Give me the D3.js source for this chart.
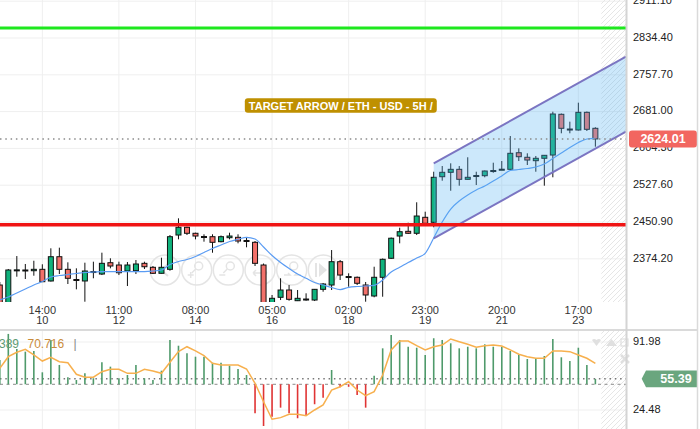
<!DOCTYPE html>
<html><head><meta charset="utf-8">
<script src="https://cdn.jsdelivr.net/npm/d3@7"></script>
<style>
body{margin:0;background:#fff}
svg{display:block}
text{font-family:"Liberation Sans",Arial,sans-serif}
</style></head>
<body><svg id="c" width="700" height="429"></svg>
<script>
// ---------------- data ----------------
const timeLabels = ["14:00","11:00","08:00","05:00","02:00","23:00","20:00","17:00"];
const dayLabels  = ["10","12","14","16","18","19","21","23"];
const labelIndex = [5,14,23,32,41,50,59,68];

const opens = [2319.6,2275.8,2350.5,2349.8,2349.4,2352.3,2328.0,2378.6,2352.3,2331.1,
 2328.0,2347.7,2342.5,2366.1,2361.3,2348.8,2349.4,2364.8,2356.5,2344.0,
 2352.3,2423.8,2439.9,2427.4,2420.7,2420.3,2409.9,2418.2,2419.0,2412.4,
 2408.6,2361.3,2278.0,2294.0,2309.2,2286.9,2289.4,2288.3,2310.6,2319.6,
 2368.2,2337.3,2335.7,2319.6,2296.7,2335.7,2375.3,2421.7,2431.5,2427.4,
 2460.7,2450.3,2545.3,2554.5,2560.7,2539.9,2546.8,2547.4,2557.2,2560.3,
 2560.7,2595.3,2585.8,2578.7,2583.7,2590.5,2675.4,2644.7,2642.7,2679.5,
 2646.2];
const highs = [2325.9,2353.0,2380.0,2363.4,2370.2,2362.8,2396.1,2397.4,2366.9,2354.4,
 2366.1,2368.2,2387.0,2375.3,2368.2,2367.5,2371.7,2368.2,2359.2,2376.5,
 2423.8,2458.6,2441.1,2428.6,2425.3,2425.3,2422.8,2428.6,2425.3,2418.2,
 2411.3,2364.4,2298.8,2333.6,2319.6,2309.2,2302.3,2311.3,2323.8,2392.5,
 2371.7,2344.0,2337.3,2325.9,2357.7,2374.8,2418.6,2439.0,2449.4,2492.0,
 2472.4,2555.7,2567.6,2573.2,2567.6,2585.8,2555.7,2558.2,2574.5,2578.0,
 2630.1,2604.5,2594.1,2588.5,2590.5,2680.8,2677.0,2660.0,2699.6,2681.2,
 2648.3];
const lows = [2273.7,2271.7,2336.9,2332.1,2339.0,2325.9,2326.9,2342.5,2321.7,2310.6,
 2284.8,2333.6,2340.4,2354.4,2340.4,2317.5,2342.5,2353.0,2342.5,2343.6,
 2349.4,2414.8,2423.8,2414.8,2409.9,2386.9,2408.6,2414.8,2406.5,2398.2,
 2359.2,2275.8,2273.7,2288.3,2286.9,2286.2,2286.9,2286.2,2305.6,2309.2,
 2330.0,2316.0,2319.6,2284.8,2294.0,2295.2,2373.8,2406.5,2425.9,2423.8,
 2446.1,2439.9,2537.0,2516.1,2526.6,2539.5,2528.0,2544.1,2553.6,2559.7,
 2559.7,2578.0,2569.7,2555.7,2526.6,2544.1,2635.8,2635.8,2641.6,2640.6,
 2607.9];
const closes = [2277.9,2350.9,2351.2,2350.9,2352.3,2326.5,2378.6,2352.3,2333.6,2330.0,
 2348.8,2346.7,2364.8,2359.2,2345.2,2361.3,2363.4,2357.7,2344.0,2356.5,
 2420.3,2439.9,2427.4,2421.7,2419.6,2408.6,2420.3,2421.7,2411.3,2411.3,
 2364.8,2279.0,2291.9,2309.2,2289.8,2291.9,2290.4,2310.6,2321.7,2368.2,
 2340.4,2336.3,2323.2,2298.8,2335.7,2373.2,2417.1,2430.7,2427.4,2463.4,
 2448.2,2544.1,2554.5,2560.7,2539.9,2544.1,2547.8,2557.2,2558.2,2560.9,
 2594.1,2587.0,2580.1,2583.7,2589.9,2676.0,2646.2,2643.7,2679.5,2644.1,
 2624.01];
const maValues = [2288.3,2294.6,2302.9,2311.3,2319.6,2326.9,2336.3,2339.4,2341.5,2343.6,
 2345.7,2346.7,2347.3,2347.7,2347.7,2347.7,2347.7,2347.7,2348.8,2350.9,
 2362.3,2368.6,2372.7,2379.0,2387.3,2395.7,2403.0,2410.3,2414.9,2419.0,
 2415.5,2398.8,2381.1,2366.5,2354.0,2342.5,2333.6,2324.8,2319.6,2314.4,
 2310.2,2314.8,2316.5,2317.5,2319.0,2330.0,2346.7,2356.5,2366.5,2375.9,
 2385.7,2417.6,2450.9,2478.0,2494.7,2507.2,2517.6,2525.9,2536.4,2546.8,
 2558.2,2560.3,2562.4,2565.5,2571.8,2583.3,2594.7,2606.2,2616.6,2623.9,
 2625.4];
const oscValues = [74,100,85.0,82.4,83.1,61.9,94.0,69.2,57.0,54.3,
 60.9,56.0,71.9,67.5,56.0,59.2,69.2,56.0,54.3,63.5,
 94.0,88.3,80.8,77.4,77.4,71.4,71.4,68.5,65.2,59.2,
 21.2,8.6,17.8,26.8,21.2,16.3,19.5,30.2,36.7,64.2,
 47.0,47.5,39.4,26.8,58.6,85.7,99.0,94.0,87.3,86.3,
 79.1,95.7,94.0,90.7,85.7,87.3,85.7,89.7,87.3,87.3,
 83.1,79.1,75.1,75.8,78.1,95.0,76.8,73.1,86.3,69.2,
 55.39];
const oscSignal = [65.9,77.4,81.8,84.7,79.1,73.1,76.8,72.4,71.4,59.9,
 57.0,57.0,62.5,64.9,64.9,60.9,60.9,64.9,63.2,60.9,
 71.8,82.4,87.3,83.1,78.4,70.9,69.2,69.2,69.2,65.2,
 51.0,32.7,15.3,16.9,20.2,20.2,18.8,24.5,29.5,44.3,
 47.6,52.6,44.3,38.7,42.7,59.2,84.1,93.0,93.0,88.3,
 84.1,87.3,89.0,95.0,92.3,89.7,86.7,88.3,89.0,88.0,
 84.1,79.8,77.4,75.8,75.8,83.1,83.1,82.4,79.1,75.8,
 70.7];
const priceTicks = [2374.20,2450.90,2527.60,2604.30,2681.00,2757.70,2834.40,2911.10];
const oscTicks = [24.48,91.98];
const lastPrice = 2624.01;
const lastOsc = 55.39;
const oscBase = 50;
const legendValues = ["55.389","70.716"];
const supportLevel = 2445;
const resistanceLevel = 2855;
const channelUpper = [[51,2573.2],[73.6,2795.4]];
const channelLower = [[51,2416.9],[73.6,2639.1]];
const titleText = "TARGET ARROW / ETH - USD - 5H /";

// ---------------- drawing ----------------
const svg = d3.select('#c');
const plotR = 626, mainB = 302, oscT = 331, oscB = 429;
const x = d3.scaleLinear().domain([0,73.6]).range([-0.2,626]);
const y = d3.scaleLinear().domain([2284.2,2913.6]).range([mainB,0]);
const yo = d3.scaleLinear().domain([24.48,91.98]).range([410,342]);

const defs = svg.append('defs');
defs.append('clipPath').attr('id','cm').append('rect').attr('x',0).attr('y',0).attr('width',plotR).attr('height',mainB);
defs.append('clipPath').attr('id','co').append('rect').attr('x',0).attr('y',oscT).attr('width',plotR).attr('height',oscB-oscT);
const pat = defs.append('pattern').attr('id','hatch').attr('patternUnits','userSpaceOnUse').attr('width',5).attr('height',5);
pat.append('path').attr('d','M-1,6 L6,-1 M-1,1 L1,-1 M4,6 L6,4').attr('stroke','#e6e6e6').attr('stroke-width',1);

// grid
const grid = svg.append('g');
grid.selectAll('line.h').data(priceTicks).join('line')
  .attr('x1',0).attr('x2',plotR).attr('y1',d=>y(d)).attr('y2',d=>y(d))
  .attr('stroke','#efefef').attr('stroke-width',1);
grid.selectAll('line.v').data(labelIndex).join('line')
  .attr('x1',d=>x(d)).attr('x2',d=>x(d)).attr('y1',0).attr('y2',mainB)
  .attr('stroke','#efefef').attr('stroke-width',1);
grid.selectAll('line.vo').data(labelIndex).join('line')
  .attr('x1',d=>x(d)).attr('x2',d=>x(d)).attr('y1',oscT).attr('y2',oscB)
  .attr('stroke','#efefef').attr('stroke-width',1);
grid.selectAll('line.ho').data(oscTicks).join('line')
  .attr('x1',0).attr('x2',plotR).attr('y1',d=>yo(d)).attr('y2',d=>yo(d))
  .attr('stroke','#efefef').attr('stroke-width',1);

// hatch future area
const hx = x(70.7);
svg.append('rect').attr('x',hx).attr('y',0).attr('width',plotR-hx).attr('height',mainB).attr('fill','url(#hatch)');
svg.append('rect').attr('x',hx).attr('y',oscT).attr('width',plotR-hx).attr('height',oscB-oscT).attr('fill','url(#hatch)');

// zoom buttons (faint)
const btn = svg.append('g').attr('stroke','#e4e4e4').attr('fill','none').attr('stroke-width',1.5);
const bx = [165,196.7,228.3,260,291.7,323.3];
bx.forEach(cx=>btn.append('circle').attr('cx',cx).attr('cy',270).attr('r',15));
btn.append('path').attr('d','M168,264 L161,270 L168,276').attr('stroke-width',2);
[196.7,228.3].forEach((cx,k)=>{
  btn.append('circle').attr('cx',cx+2).attr('cy',266).attr('r',4);
  btn.append('path').attr('d',`M${cx-1},269 L${cx-5},273`);
  btn.append('path').attr('d',k===0?`M${cx-9},275 h6 M${cx-6},272 v6`:`M${cx-9},275 h6`);
});
btn.append('path').attr('d','M253,273 h14 M253,273 l3,-3 M253,273 l3,3 M267,273 l-3,-3 M267,273 l-3,3');
btn.append('circle').attr('cx',293.7).attr('cy',266).attr('r',4);
btn.append('path').attr('d','M284,275 h6 l-2,-2 M301,275 h-6 l2,-2');
svg.append('path').attr('d','M319,263 L319,277 L327,270 Z').attr('fill','#e4e4e4');
svg.append('rect').attr('x',315).attr('y',263).attr('width',2).attr('height',14).attr('fill','#e4e4e4');

// candles
const cg = svg.append('g').attr('clip-path','url(#cm)');
const idx = d3.range(opens.length);
cg.selectAll('line.w').data(idx).join('line')
  .attr('x1',i=>x(i)).attr('x2',i=>x(i)).attr('y1',i=>y(highs[i])).attr('y2',i=>y(lows[i]))
  .attr('stroke','#111').attr('stroke-width',1);
cg.selectAll('rect.b').data(idx).join('rect')
  .attr('x',i=>x(i)-2.5).attr('width',5)
  .attr('y',i=>Math.min(y(opens[i]),y(closes[i])))
  .attr('height',i=>Math.max(1,Math.abs(y(opens[i])-y(closes[i]))))
  .attr('fill',i=>closes[i]>=opens[i]?'#0fb27c':'#f2706a')
  .attr('stroke','#111').attr('stroke-width',1);

// moving average
cg.append('path').datum(maValues)
  .attr('d',d3.line().x((d,i)=>x(i)).y(d=>y(d)).curve(d3.curveMonotoneX))
  .attr('fill','none').attr('stroke','#5b9cf3').attr('stroke-width',1.2);

// channel
const chPoly = [channelUpper[0],channelUpper[1],channelLower[1],channelLower[0]];
cg.append('path').attr('d','M'+chPoly.map(p=>[x(p[0]),y(p[1])].join(',')).join('L')+'Z')
  .attr('fill','rgba(85,178,242,0.3)');
[channelUpper,channelLower].forEach(ch=>{
  cg.append('line').attr('x1',x(ch[0][0])).attr('y1',y(ch[0][1])).attr('x2',x(ch[1][0])).attr('y2',y(ch[1][1]))
    .attr('stroke','#7b75c2').attr('stroke-width',2);
});

// horizontal levels
svg.append('line').attr('x1',0).attr('x2',plotR).attr('y1',y(resistanceLevel)).attr('y2',y(resistanceLevel))
  .attr('stroke','#1ee81e').attr('stroke-width',3);
svg.append('line').attr('x1',0).attr('x2',plotR).attr('y1',y(supportLevel)).attr('y2',y(supportLevel))
  .attr('stroke','#f01414').attr('stroke-width',3.5);

// last price dotted line
svg.append('line').attr('x1',0).attr('x2',plotR).attr('y1',y(lastPrice)).attr('y2',y(lastPrice))
  .attr('stroke','#8a8a8a').attr('stroke-width',1.5).attr('stroke-dasharray','1.5,3.8');

// title label
const tg = svg.append('g');
const tt = tg.append('text').attr('x',340.8).attr('y',109.5).attr('text-anchor','middle')
  .attr('font-size',11).attr('font-weight','bold').attr('fill','#fff').text(titleText);
const tw = tt.node().getComputedTextLength();
tg.insert('rect','text').attr('x',340.8-tw/2-4).attr('y',98.3).attr('width',tw+8).attr('height',14.4)
  .attr('rx',3).attr('fill','#bf9000');

// x axis labels
const xa = svg.append('g').attr('font-size',11).attr('fill','#333').attr('text-anchor','middle');
xa.selectAll('text.t').data(labelIndex).join('text').attr('x',d=>x(d)).attr('y',313.5).text((d,i)=>timeLabels[i]);
xa.selectAll('text.d').data(labelIndex).join('text').attr('x',d=>x(d)).attr('y',323.8).text((d,i)=>dayLabels[i]);

// right axis
const ra = svg.append('g').attr('font-size',11).attr('fill','#222');
ra.selectAll('text.p').data(priceTicks).join('text').attr('x',633).attr('y',d=>y(d)+2.8).text(d=>d.toFixed(2));
ra.selectAll('text.o').data(oscTicks).join('text').attr('x',633).attr('y',d=>yo(d)+3).text(d=>d.toFixed(2));

// price label
const ly = y(lastPrice);
svg.append('rect').attr('x',629).attr('y',ly-8.5).attr('width',68).attr('height',17).attr('rx',3).attr('fill','#f26660');
svg.append('text').attr('x',663).attr('y',ly+4.3).attr('text-anchor','middle').attr('font-size',12.5)
  .attr('font-weight','bold').attr('fill','#fff').text(lastPrice.toFixed(2));

// oscillator
const og = svg.append('g').attr('clip-path','url(#co)');
og.append('line').attr('x1',0).attr('x2',plotR).attr('y1',yo(oscBase)).attr('y2',yo(oscBase))
  .attr('stroke','#8a8a8a').attr('stroke-width',1).attr('stroke-dasharray','3,3.5');
og.append('line').attr('x1',0).attr('x2',plotR).attr('y1',yo(lastOsc)).attr('y2',yo(lastOsc))
  .attr('stroke','#777').attr('stroke-width',1.5).attr('stroke-dasharray','1.5,3.8');
og.selectAll('line.bar').data(idx).join('line')
  .attr('x1',i=>x(i)).attr('x2',i=>x(i)).attr('y1',yo(oscBase)).attr('y2',i=>yo(oscValues[i]))
  .attr('stroke',i=>oscValues[i]>=oscBase?'#4f9a6b':'#e03434').attr('stroke-width',1.6);
og.append('path').datum(oscSignal)
  .attr('d',d3.line().x((d,i)=>x(i)).y(d=>yo(d)))
  .attr('fill','none').attr('stroke','#f7b04e').attr('stroke-width',1.5);

// legend
svg.append('text').attr('x',19).attr('y',347.5).attr('text-anchor','end').attr('font-size',12).attr('fill','#5d9b73').text(legendValues[0]);
svg.append('text').attr('x',27.5).attr('y',347.5).attr('font-size',12).attr('fill','#c98b3b').text(legendValues[1]);
svg.append('text').attr('x',73.5).attr('y',347.5).attr('font-size',12).attr('fill','#888').text('|');

// osc label
const oy = yo(lastOsc);
svg.append('path').attr('d',`M641.7,${oy} L646,${oy-8.3} H697 V${oy+8.3} H646 Z`).attr('fill','#6aa67e');
svg.append('text').attr('x',676).attr('y',oy+4.5).attr('text-anchor','middle').attr('font-size',12.5)
  .attr('font-weight','bold').attr('fill','#fff').text(lastOsc.toFixed(2));

// osc icons
const ic = svg.append('g').attr('fill','#e0e0e0');
ic.append('path').attr('d','M592,340 Q594,338 596.5,340 Q599,338 601,340 L596.5,346 Z');
ic.append('path').attr('d','M606,346 L611.5,339 L617,346 Z');
ic.append('rect').attr('x',621).attr('y',339).attr('width',7).attr('height',7).attr('fill','none').attr('stroke','#e0e0e0').attr('stroke-width',1.2);
ic.append('path').attr('d','M621,355 L629,363 M629,355 L621,363').attr('stroke','#e0e0e0').attr('stroke-width',2.5);

// panel borders
svg.append('line').attr('x1',0).attr('x2',698).attr('y1',330).attr('y2',330).attr('stroke','#dadada').attr('stroke-width',2);
svg.append('line').attr('x1',626.5).attr('x2',626.5).attr('y1',0).attr('y2',429).attr('stroke','#d4d4d4').attr('stroke-width',2);
svg.append('line').attr('x1',697.5).attr('x2',697.5).attr('y1',0).attr('y2',429).attr('stroke','#dadada').attr('stroke-width',1.5);
</script></body></html>
